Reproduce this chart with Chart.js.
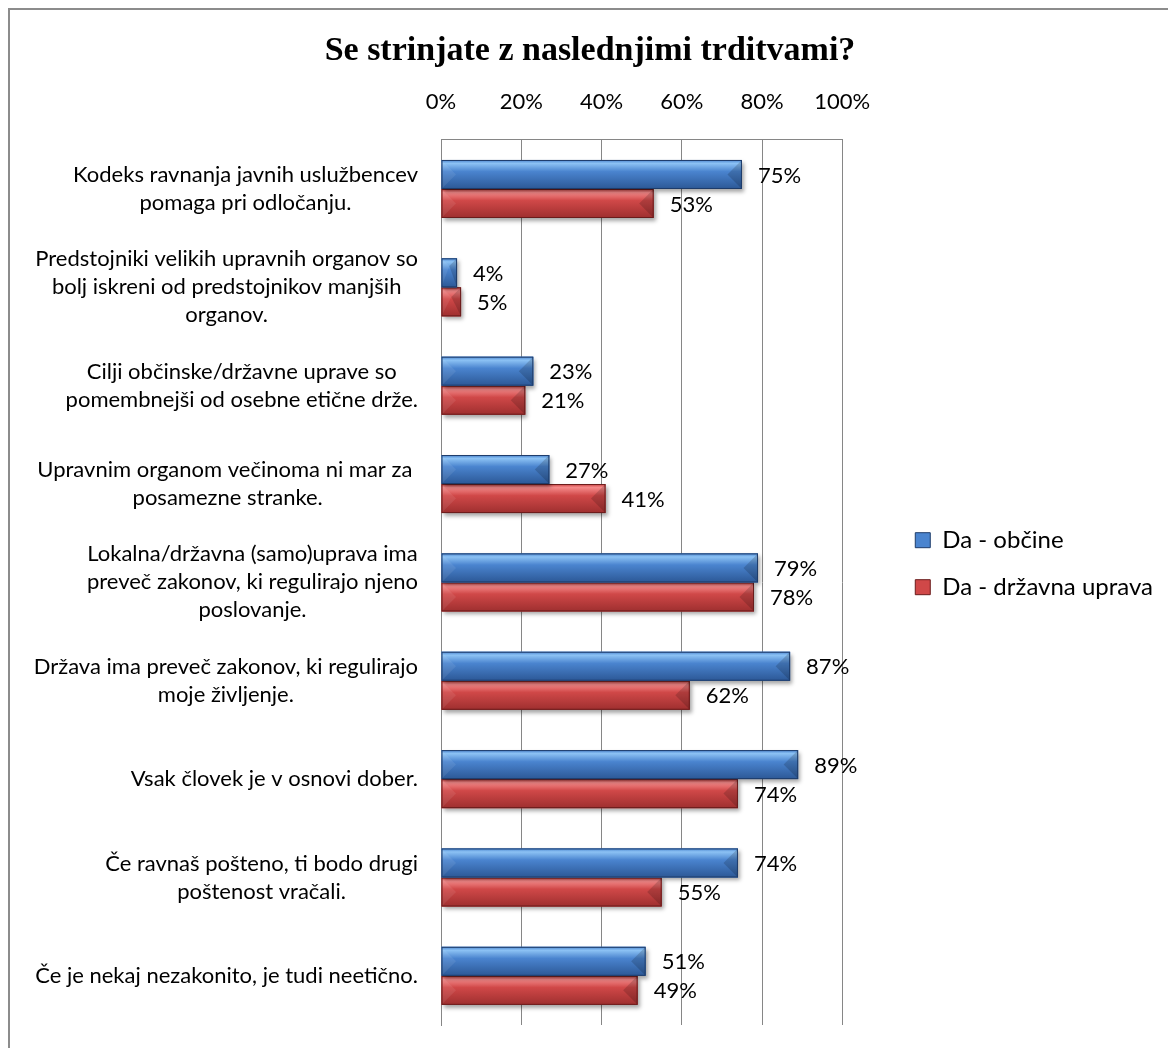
<!DOCTYPE html>
<html>
<head>
<meta charset="utf-8">
<title>Se strinjate z naslednjimi trditvami?</title>
<script src="https://cdn.jsdelivr.net/npm/chart.js@4.4.0/dist/chart.umd.min.js"></script>
<style>
  html, body { margin: 0; padding: 0; background: #fff; }
  #wrap { position: relative; width: 1168px; height: 1048px; overflow: hidden; }
  #frame {
    position: absolute; left: 8px; top: 8px; right: -10px; bottom: -10px;
    border-left: 2px solid #8c8c8c; border-top: 2px solid #8c8c8c;
    pointer-events: none;
  }
</style>
</head>
<body>
<div id="wrap">
  <canvas id="trditve" width="1168" height="1048"></canvas>
  <div id="frame"></div>
</div>
<script>
const categories = [
  ["Kodeks ravnanja javnih uslužbencev", "pomaga pri odločanju."],
  ["Predstojniki velikih upravnih organov so", "bolj iskreni od predstojnikov manjših", "organov."],
  ["Cilji občinske/državne uprave so", "pomembnejši od osebne etične drže."],
  ["Upravnim organom večinoma ni mar za ", "posamezne stranke."],
  ["Lokalna/državna (samo)uprava ima", "preveč zakonov, ki regulirajo njeno", "poslovanje."],
  ["Država ima preveč zakonov, ki regulirajo", "moje življenje."],
  ["Vsak človek je v osnovi dober."],
  ["Če ravnaš pošteno, ti bodo drugi", "poštenost vračali."],
  ["Če je nekaj nezakonito, je tudi neetično."]
];
const obcine = [75, 4, 23, 27, 79, 87, 89, 74, 51];
const drzavnaUprava = [53, 5, 21, 41, 78, 62, 74, 55, 49];
const seriesNames = ["Da - občine", "Da - državna uprava"];
const tickLabels = ["0%", "20%", "40%", "60%", "80%", "100%"];

const palette = [
  { light: "#8cc2f4", mid: "#4a84cf", dark: "#2c5896", edge: "#1e3c6a" },
  { light: "#f58a8a", mid: "#d04848", dark: "#9e2f2f", edge: "#6a1c1c" }
];

const labelFont = "22px Lato";
const gridColor = "#868686";

// bars get a soft drop shadow, then a bevelled gradient face on top
const bevelBars = {
  id: "bevelBars",
  beforeDatasetDraw(chart) {
    const ctx = chart.ctx;
    ctx.save();
    ctx.shadowColor = "rgba(0,0,0,0.35)";
    ctx.shadowBlur = 4;
    ctx.shadowOffsetX = 2;
    ctx.shadowOffsetY = 3;
  },
  afterDatasetDraw(chart, args) {
    const ctx = chart.ctx;
    ctx.restore();
    const pal = palette[args.index];
    args.meta.data.forEach(bar => {
      const { x, y, base, height } = bar.getProps(["x", "y", "base", "height"], true);
      const x0 = Math.min(base, x), x1 = Math.max(base, x);
      const y0 = y - height / 2, y1 = y + height / 2;
      const w = x1 - x0;
      if (w <= 0) return;

      const g = ctx.createLinearGradient(0, y0, 0, y1);
      g.addColorStop(0, pal.mid);
      g.addColorStop(0.12, pal.light);
      g.addColorStop(0.4, pal.mid);
      g.addColorStop(1, pal.dark);
      ctx.save();
      ctx.fillStyle = g;
      ctx.fillRect(x0, y0, w, height);

      const b = Math.min(height * 0.5, w / 2);
      ctx.fillStyle = "rgba(255,255,255,0.08)";
      ctx.beginPath();
      ctx.moveTo(x0, y0);
      ctx.lineTo(x0 + b, y0 + b);
      ctx.lineTo(x0, y1);
      ctx.closePath();
      ctx.fill();

      ctx.fillStyle = "rgba(0,0,0,0.16)";
      ctx.beginPath();
      ctx.moveTo(x1, y0);
      ctx.lineTo(x1 - b, y0 + b);
      ctx.lineTo(x1, y1);
      ctx.closePath();
      ctx.fill();

      ctx.strokeStyle = pal.edge;
      ctx.lineWidth = 1;
      ctx.strokeRect(x0 + 0.5, y0 + 0.5, w - 1, height - 1);
      ctx.restore();
    });
  }
};

// percentage next to the end of every bar
const valueLabels = {
  id: "valueLabels",
  afterDatasetsDraw(chart) {
    const ctx = chart.ctx;
    ctx.save();
    ctx.font = labelFont;
    ctx.fillStyle = "#000";
    ctx.textAlign = "left";
    ctx.textBaseline = "middle";
    chart.data.datasets.forEach((ds, i) => {
      chart.getDatasetMeta(i).data.forEach((bar, j) => {
        ctx.fillText(ds.data[j] + "%", bar.x + 16, bar.y + 1);
      });
    });
    ctx.restore();
  }
};

// multi-line category labels: lines centred inside a right-aligned block
const categoryLabels = {
  id: "categoryLabels",
  afterDraw(chart) {
    const ctx = chart.ctx;
    const yScale = chart.scales.y;
    const right = chart.chartArea.left - 23;
    const lineH = 28;
    ctx.save();
    ctx.font = labelFont;
    ctx.fillStyle = "#000";
    ctx.textAlign = "center";
    ctx.textBaseline = "middle";
    categories.forEach((lines, i) => {
      const blockW = Math.max(...lines.map(l => ctx.measureText(l).width));
      const cx = right - blockW / 2;
      const cy = yScale.getPixelForTick(i);
      const top = cy - (lines.length - 1) * lineH / 2;
      lines.forEach((l, k) => ctx.fillText(l, cx, top + k * lineH));
    });
    ctx.restore();
  }
};

const ctx = document.getElementById("trditve").getContext("2d");

const chart = new Chart(ctx, {
  type: "bar",
  data: {
    labels: categories,
    datasets: [
      {
        label: seriesNames[0],
        data: obcine,
        backgroundColor: palette[0].mid,
        borderWidth: 0
      },
      {
        label: seriesNames[1],
        data: drzavnaUprava,
        backgroundColor: palette[1].mid,
        borderWidth: 0
      }
    ]
  },
  options: {
    indexAxis: "y",
    responsive: false,
    animation: false,
    devicePixelRatio: 1,
    categoryPercentage: 0.59,
    barPercentage: 1,
    layout: { padding: { top: 0, right: 5, bottom: 23, left: 17 } },
    scales: {
      x: {
        position: "top",
        min: 0,
        max: 100,
        ticks: {
          stepSize: 20,
          padding: 25,
          color: "#000",
          font: { family: "Lato", size: 22 },
          callback: (value, index) => tickLabels[index]
        },
        grid: { color: gridColor, drawTicks: false },
        border: { color: gridColor },
        afterFit: s => {
          s.height = 68;
        }
      },
      y: {
        ticks: { display: false },
        grid: { display: false },
        border: { color: gridColor },
        afterFit: s => {
          s.width = 424;
        }
      },
      // empty strip between the plot and the legend
      gap: {
        type: "category",
        axis: "y",
        position: "right",
        ticks: { display: false },
        grid: { display: false },
        border: { display: false },
        afterFit: s => {
          s.width = 50;
        }
      }
    },
    plugins: {
      title: {
        display: true,
        text: "Se strinjate z naslednjimi trditvami?",
        color: "#000",
        font: { family: "Liberation Serif", size: 34, weight: "bold" },
        padding: { top: 31, bottom: 0 }
      },
      legend: {
        position: "right",
        align: "start",
        fullSize: false,
        maxWidth: 300,
        title: { display: true, text: " ", font: { size: 12 }, padding: { top: 351, bottom: 0 } },
        labels: {
          color: "#000",
          font: { family: "Lato", size: 24 },
          boxWidth: 15,
          boxHeight: 15,
          padding: 23,
          generateLabels: c =>
            Chart.defaults.plugins.legend.labels.generateLabels(c).map((item, i) => ({
              ...item,
              strokeStyle: palette[i].edge,
              lineWidth: 1
            }))
        }
      },
      tooltip: { enabled: false }
    }
  },
  plugins: [bevelBars, valueLabels, categoryLabels]
});
</script>
</body>
</html>
